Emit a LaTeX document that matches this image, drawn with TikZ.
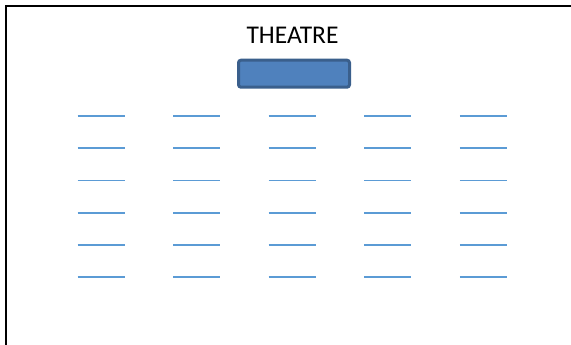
\documentclass[tikz,border=0pt]{standalone}
\usepackage{fontspec}
\setmainfont{Carlito}
\usepackage{tikz}

\definecolor{stagefill}{HTML}{4F81BD}
\definecolor{stageline}{HTML}{3A5F8C}
\definecolor{seatblue}{HTML}{5B9BD5}

\tikzset{
  seatrow/.style={draw=seatblue, line width=1.8pt},
  stagebox/.style={draw=stageline, fill=stagefill, line width=3pt, rounded corners=2.5pt,
    minimum width=111pt, minimum height=27pt, inner sep=0pt}
}

\begin{document}
\begin{tikzpicture}[x=1pt, y=-1pt]
        \useasboundingbox (0,0) rectangle (571,345);
        \clip (0,0) rectangle (571,345);
        % Frame (runs off to the right and bottom)
        \draw[line width=2pt] (5.8,360) -- (5.8,5.8) -- (590,5.8);
        % Title and stage
        \node[anchor=base, font=\fontsize{25.5}{30}\selectfont] (title) at (292.5,43.4) {THEATRE};
        \node[stagebox] (stage) at (294,73.7) {};
        % Seats
        \foreach \c in {0,...,4}
          \foreach \r in {0,...,5}
            \draw[seatrow] (77.5+95.6*\c,115.8+32.3*\r) -- ++(47,0);
      \end{tikzpicture}
\end{document}
